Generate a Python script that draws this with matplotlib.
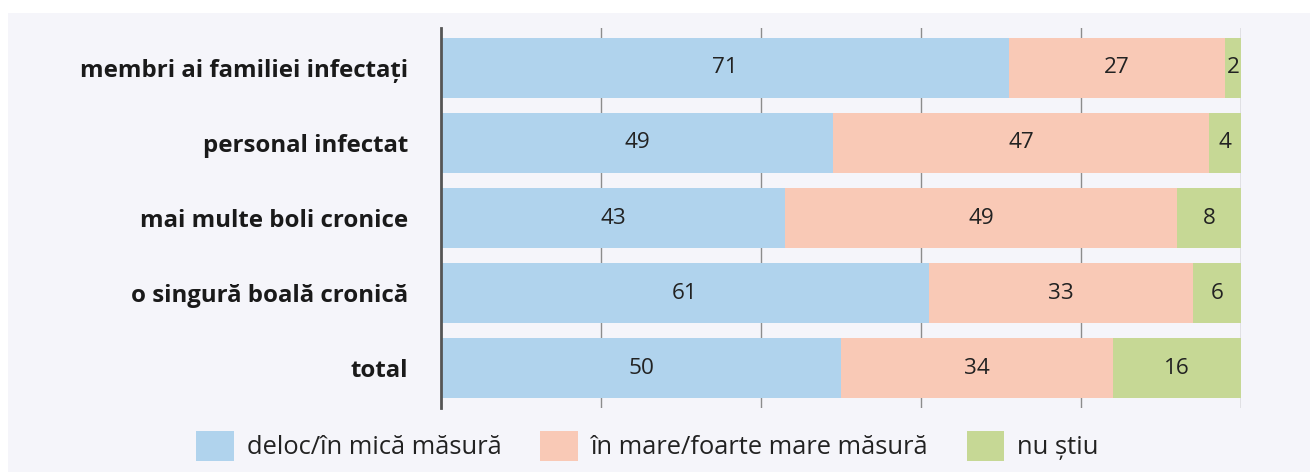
import numpy as np
import matplotlib.pyplot as plt
from matplotlib.patches import Patch, Rectangle

categories = ['total', 'o singură boală cronică', 'mai multe boli cronice',
              'personal infectat', 'membri ai familiei infectați']
low = [50, 61, 43, 49, 71]
high = [34, 33, 49, 47, 27]
unknown = [16, 6, 8, 4, 2]
series_names = ['deloc/în mică măsură', 'în mare/foarte mare măsură', 'nu știu']
colors = ['#b0d3ed', '#f9c9b6', '#c6d895']

plt.rcParams['font.family'] = ['Open Sans', 'DejaVu Sans']

fig = plt.figure(figsize=(13.1, 4.72), dpi=100)
fig.patches.append(Rectangle((8 / 1310, 0), 1, 1 - 13 / 472, transform=fig.transFigure,
                             facecolor='#f5f5fa', edgecolor='none', zorder=-10))
ax = fig.add_axes([441 / 1310, 1 - 408 / 472, 800 / 1310, 380 / 472])
ax.set_facecolor('none')

y = np.arange(len(categories))
left = np.zeros(len(categories))
for vals, c in zip([low, high, unknown], colors):
    vals = np.array(vals)
    ax.barh(y, vals, left=left, height=0.8, color=c, zorder=2)
    for yi, l, v in zip(y, left, vals):
        ax.text(l + v / 2, yi, str(v), ha='center', va='center', fontsize=16.2, color='#222222', zorder=3)
    left += vals

ax.set_xlim(0, 100)
ax.set_ylim(-0.533, 4.533)
for xv in [20, 40, 60, 80, 100]:
    ax.axvline(xv, color='#8c8c8c', lw=1, zorder=1)
for s in ['top', 'right', 'bottom']:
    ax.spines[s].set_visible(False)
ax.spines['left'].set_color('#555555')
ax.spines['left'].set_linewidth(2)
ax.spines['left'].set_zorder(4)
ax.set_xticks([])
ax.set_yticks(y)
ax.set_yticklabels(categories, fontsize=17.3, fontweight='bold', color='#1a1a1a')
ax.tick_params(axis='y', length=0, pad=23.5)

handles = [Patch(facecolor=c, edgecolor='none') for c in colors]
fig.legend(handles, series_names, loc='center', bbox_to_anchor=(647.5 / 1310, 1 - 446 / 472), ncol=3,
           frameon=False, fontsize=18.4, handlelength=1.48, handleheight=1.48,
           handletextpad=0.5, columnspacing=1.5, labelcolor='#222222')

plt.savefig('out.png', dpi=100)
